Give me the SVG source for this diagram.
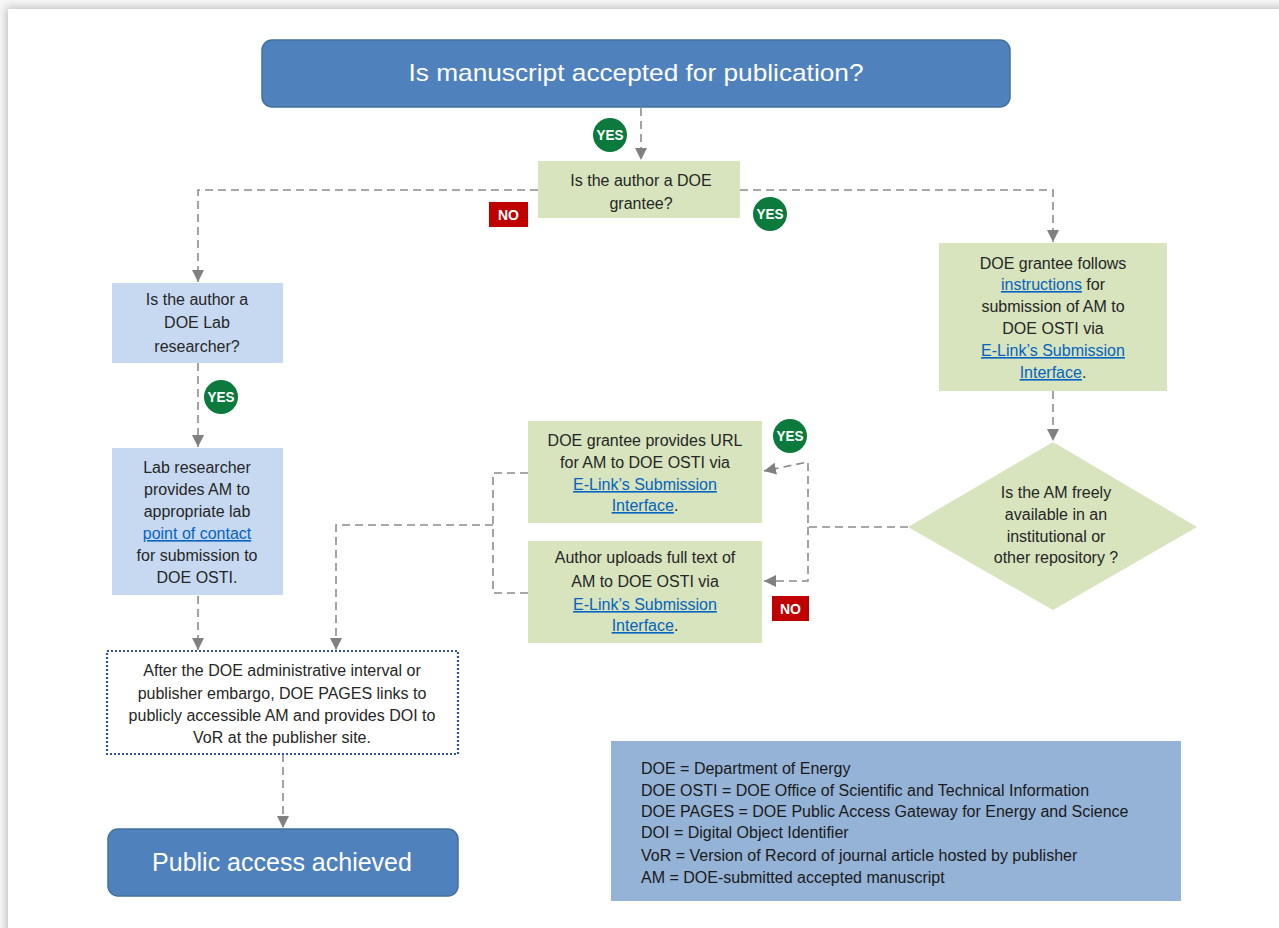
<svg xmlns="http://www.w3.org/2000/svg" width="1279" height="928" viewBox="0 0 1279 928">
<defs>
<style>
.t{font-family:"Liberation Sans",Arial,sans-serif;font-size:16px;fill:#262626;text-anchor:middle}
.lg{font-family:"Liberation Sans",Arial,sans-serif;font-size:16px;fill:#1a1a1a}
.wt{font-family:"Liberation Sans",Arial,sans-serif;fill:#ffffff;text-anchor:middle}
.lk{fill:#0563c1;text-decoration:underline}
.blue{fill:#4f81bd;stroke:#41719c;stroke-width:1.5}
.green{fill:#d7e4bd}
.lblue{fill:#c6d9f1}
.con{fill:none;stroke:#8c8c8c;stroke-width:1.6;stroke-dasharray:8 5}
.yes{fill:#0b7a3c}
.no{fill:#c00000}
.bt{font-family:"Liberation Sans",Arial,sans-serif;font-weight:bold;font-size:14px;fill:#ffffff;text-anchor:middle}
</style>
<marker id="arr" markerUnits="userSpaceOnUse" markerWidth="12" markerHeight="12" viewBox="0 0 10 10" refX="10" refY="5" orient="auto">
<path d="M0,0 L10,5 L0,10 z" fill="#808080"/>
</marker>
<filter id="sh" x="-5%" y="-5%" width="110%" height="110%">
<feGaussianBlur stdDeviation="4"/>
</filter>
</defs>
<rect x="0" y="0" width="1279" height="928" fill="#f7f7f7"/>
<rect x="6" y="7" width="1300" height="950" fill="#000" opacity="0.22" filter="url(#sh)"/>
<rect x="8" y="9" width="1300" height="950" fill="#ffffff"/>

<g id="connectors">
<path class="con" d="M641,108 V160" marker-end="url(#arr)"/>
<path class="con" d="M538,190 H198 V282" marker-end="url(#arr)"/>
<path class="con" d="M740,190 H1053 V242" marker-end="url(#arr)"/>
<path class="con" d="M198,363 V447" marker-end="url(#arr)"/>
<path class="con" d="M198,596 V650" marker-end="url(#arr)"/>
<path class="con" d="M1053,391 V441" marker-end="url(#arr)"/>
<path class="con" d="M908,527 H808 V462 L764,471" marker-end="url(#arr)"/>
<path class="con" d="M808,527 V581 H764" marker-end="url(#arr)"/>
<path class="con" d="M528,473 H493 V593 H528"/>
<path class="con" d="M493,525 H336 V650" marker-end="url(#arr)"/>
<path class="con" d="M283,754 V828" marker-end="url(#arr)"/>
</g>

<g id="start">
<rect class="blue" x="262" y="40" width="748" height="67" rx="10"/>
<text class="wt" x="636" y="81" font-size="24" textLength="455" lengthAdjust="spacingAndGlyphs">Is manuscript accepted for publication?</text>
</g>

<g id="q-grantee">
<rect class="green" x="538" y="161" width="202" height="57"/>
<text class="t" x="641" y="186">Is the author a DOE</text>
<text class="t" x="641" y="209">grantee?</text>
</g>

<g id="q-lab">
<rect class="lblue" x="112" y="283" width="171" height="80"/>
<text class="t" x="197" y="305">Is the author a</text>
<text class="t" x="197" y="328">DOE Lab</text>
<text class="t" x="197" y="352">researcher?</text>
</g>

<g id="lab-provides">
<rect class="lblue" x="112" y="448" width="171" height="147"/>
<text class="t" x="197" y="473">Lab researcher</text>
<text class="t" x="197" y="495">provides AM to</text>
<text class="t" x="197" y="517">appropriate lab</text>
<text class="t" x="197" y="539"><tspan class="lk">point of contact</tspan></text>
<text class="t" x="197" y="561">for submission to</text>
<text class="t" x="197" y="583">DOE OSTI.</text>
</g>

<g id="grantee-follows">
<rect class="green" x="939" y="243" width="228" height="148"/>
<text class="t" x="1053" y="269">DOE grantee follows</text>
<text class="t" x="1053" y="290"><tspan class="lk">instructions</tspan> for</text>
<text class="t" x="1053" y="312">submission of AM to</text>
<text class="t" x="1053" y="334">DOE OSTI via</text>
<text class="t" x="1053" y="356"><tspan class="lk">E-Link’s Submission</tspan></text>
<text class="t" x="1053" y="378"><tspan class="lk">Interface</tspan>.</text>
</g>

<g id="q-repository">
<polygon class="green" points="1053,442 1197,527 1053,610 908,527"/>
<text class="t" x="1056" y="498">Is the AM freely</text>
<text class="t" x="1056" y="520">available in an</text>
<text class="t" x="1056" y="542">institutional or</text>
<text class="t" x="1056" y="563">other repository ?</text>
</g>

<g id="provides-url">
<rect class="green" x="528" y="421" width="234" height="102"/>
<text class="t" x="645" y="446">DOE grantee provides URL</text>
<text class="t" x="645" y="468">for AM to DOE OSTI via</text>
<text class="t" x="645" y="490"><tspan class="lk">E-Link’s Submission</tspan></text>
<text class="t" x="645" y="511"><tspan class="lk">Interface</tspan>.</text>
</g>

<g id="uploads-full-text">
<rect class="green" x="528" y="541" width="234" height="102"/>
<text class="t" x="645" y="563">Author uploads full text of</text>
<text class="t" x="645" y="587">AM to DOE OSTI via</text>
<text class="t" x="645" y="610"><tspan class="lk">E-Link’s Submission</tspan></text>
<text class="t" x="645" y="631"><tspan class="lk">Interface</tspan>.</text>
</g>

<g id="pages-links">
<rect x="107" y="651" width="351" height="103" fill="#ffffff" stroke="#2f5597" stroke-width="2.2" stroke-dasharray="2 2"/>
<text class="t" x="282" y="676">After the DOE administrative interval or</text>
<text class="t" x="282" y="699">publisher embargo, DOE PAGES links to</text>
<text class="t" x="282" y="721">publicly accessible AM and provides DOI to</text>
<text class="t" x="282" y="743">VoR at the publisher site.</text>
</g>

<g id="end">
<rect class="blue" x="108" y="829" width="350" height="67" rx="10"/>
<text class="wt" x="282" y="871" font-size="25">Public access achieved</text>
</g>

<g id="legend">
<rect x="611" y="741" width="570" height="160" fill="#95b3d7"/>
<text class="lg" x="641" y="774">DOE = Department of Energy</text>
<text class="lg" x="641" y="796">DOE OSTI = DOE Office of Scientific and Technical Information</text>
<text class="lg" x="641" y="817">DOE PAGES = DOE Public Access Gateway for Energy and Science</text>
<text class="lg" x="641" y="838">DOI = Digital Object Identifier</text>
<text class="lg" x="641" y="861">VoR = Version of Record of journal article hosted by publisher</text>
<text class="lg" x="641" y="883">AM = DOE-submitted accepted manuscript</text>
</g>

<g id="badges">
<circle class="yes" cx="610" cy="135" r="17"/>
<text class="bt" x="610" y="140" textLength="27" lengthAdjust="spacingAndGlyphs">YES</text>
<circle class="yes" cx="770" cy="214" r="17"/>
<text class="bt" x="770" y="219" textLength="27" lengthAdjust="spacingAndGlyphs">YES</text>
<circle class="yes" cx="221" cy="397" r="17"/>
<text class="bt" x="221" y="402" textLength="27" lengthAdjust="spacingAndGlyphs">YES</text>
<circle class="yes" cx="790" cy="436" r="17"/>
<text class="bt" x="790" y="441" textLength="27" lengthAdjust="spacingAndGlyphs">YES</text>
<rect class="no" x="489" y="202" width="39" height="25"/>
<text class="bt" x="508.5" y="219.5">NO</text>
<rect class="no" x="772" y="596" width="37" height="25"/>
<text class="bt" x="790.5" y="613.5">NO</text>
</g>
</svg>
